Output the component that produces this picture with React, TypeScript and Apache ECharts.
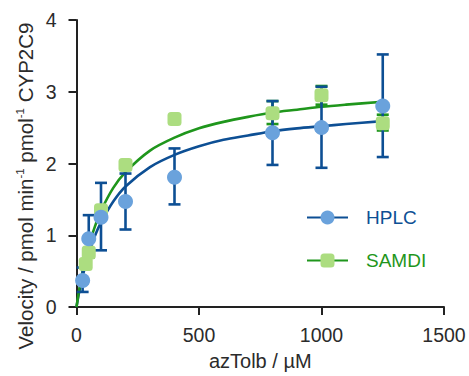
import React, { useEffect, useRef } from "react";
import * as echarts from "echarts";

// HPLC measurements
const hplcConc = [25, 50, 100, 200, 400, 800, 1000, 1250];
const hplcMean = [0.37, 0.95, 1.25, 1.47, 1.81, 2.43, 2.5, 2.8];
const hplcLow = [0.21, 0.69, 0.79, 1.08, 1.43, 1.98, 1.94, 2.09];
const hplcHigh = [0.55, 1.28, 1.73, 1.86, 2.21, 2.87, 3.07, 3.52];

// SAMDI measurements
const samdiConc = [37.5, 50, 100, 200, 400, 800, 1000, 1250];
const samdiMean = [0.6, 0.76, 1.35, 1.98, 2.62, 2.7, 2.95, 2.56];
const samdiLow = [0.56, 0.72, 1.31, 1.94, 2.58, 2.55, 2.82, 2.46];
const samdiHigh = [0.64, 0.8, 1.39, 2.02, 2.66, 2.87, 3.08, 2.68];

// fitted curves
const curveX = [0, 10, 25, 50, 75, 100, 150, 200, 300, 400, 500, 600, 700, 800, 900, 1000, 1100, 1250];
const hplcFit = [0, 0.19, 0.43, 0.74, 0.99, 1.18, 1.47, 1.68, 1.95, 2.12, 2.24, 2.33, 2.39, 2.45, 2.49, 2.52, 2.55, 2.59];
const samdiFit = [0, 0.22, 0.49, 0.85, 1.12, 1.34, 1.66, 1.88, 2.18, 2.36, 2.49, 2.58, 2.65, 2.71, 2.75, 2.79, 2.82, 2.86];

const xTicks = [0, 500, 1000, 1500];
const yTicks = [0, 1, 2, 3, 4];

const FONT = "'Liberation Sans', Arial, Helvetica, sans-serif";
const BLUE_DARK = "#0d4f94";
const BLUE_LIGHT = "#6aa2dc";
const GREEN_DARK = "#1f961c";
const GREEN_LIGHT = "#acdd80";
const AXIS = "#222222";
const LABEL = "#2b2b2b";

function errorSeries(conc: number[], low: number[], high: number[], color: string, z: number) {
  return {
    type: "custom",
    z,
    silent: true,
    data: conc.map((c, i) => [c, low[i], high[i]]),
    encode: { x: 0, y: [1, 2] },
    renderItem: (_params: any, api: any) => {
      const x = api.value(0);
      const top = api.coord([x, api.value(2)]);
      const bot = api.coord([x, api.value(1)]);
      const w = 6;
      const style = { stroke: color, lineWidth: 2.6 };
      return {
        type: "group",
        children: [
          { type: "line", shape: { x1: top[0], y1: top[1], x2: bot[0], y2: bot[1] }, style },
          { type: "line", shape: { x1: top[0] - w, y1: top[1], x2: top[0] + w, y2: top[1] }, style },
          { type: "line", shape: { x1: bot[0] - w, y1: bot[1], x2: bot[0] + w, y2: bot[1] }, style },
        ],
      };
    },
  };
}

export default function App() {
  const ref = useRef<HTMLDivElement>(null);
  useEffect(() => {
    if (!ref.current) return;
    const chart = echarts.init(ref.current, null, { renderer: "svg" });
    chart.setOption({
      animation: false,
      backgroundColor: "#ffffff",
      grid: { left: 76.5, right: 25, top: 20, bottom: 64, containLabel: false },
      legend: {
        orient: "vertical",
        left: 301,
        top: 203,
        itemWidth: 41,
        itemHeight: 17.5,
        itemGap: 24,
        selectedMode: false,
        data: [
          { name: "HPLC", textStyle: { color: BLUE_DARK } },
          { name: "SAMDI", textStyle: { color: GREEN_DARK } },
        ],
        textStyle: { fontSize: 19, fontFamily: FONT, padding: [0, 0, 0, 13] },
      },
      xAxis: {
        type: "value",
        min: xTicks[0],
        max: xTicks[xTicks.length - 1],
        interval: 500,
        name: "azTolb / µM",
        nameLocation: "middle",
        nameGap: 44,
        nameTextStyle: { fontSize: 20, color: LABEL, fontFamily: FONT },
        axisLine: { show: true, onZero: false, lineStyle: { color: AXIS, width: 2 } },
        axisTick: { show: true, length: 8, lineStyle: { color: AXIS, width: 2 } },
        axisLabel: {
          fontSize: 19.5,
          color: LABEL,
          fontFamily: FONT,
          margin: 18,
          formatter: (v: number) => String(v),
        },
        splitLine: { show: false },
      },
      yAxis: {
        type: "value",
        min: yTicks[0],
        max: yTicks[yTicks.length - 1],
        interval: 1,
        axisLine: { show: true, onZero: false, lineStyle: { color: AXIS, width: 2 } },
        axisTick: { show: true, length: 8, lineStyle: { color: AXIS, width: 2 } },
        axisLabel: {
          fontSize: 19.5,
          color: LABEL,
          fontFamily: FONT,
          margin: 20,
          formatter: (v: number) => String(v),
        },
        splitLine: { show: false },
      },
      graphic: [
        {
          type: "text",
          x: 25,
          y: 186,
          rotation: Math.PI / 2,
          style: {
            text: "Velocity / pmol min{s|-1} pmol{s|-1} CYP2C9",
            fontSize: 20.5,
            fontFamily: FONT,
            fill: LABEL,
            align: "center",
            verticalAlign: "middle",
            lineHeight: 22,
            rich: {
              s: { fontSize: 11.5, fontFamily: FONT, fill: LABEL, verticalAlign: "top", lineHeight: 22 },
            },
          },
        },
      ],
      series: [
        {
          name: "HPLC",
          type: "line",
          z: 2,
          data: curveX.map((x, i) => [x, hplcFit[i]]),
          smooth: 0.3,
          showSymbol: false,
          symbol: "circle",
          itemStyle: { color: BLUE_LIGHT },
          lineStyle: { color: BLUE_DARK, width: 2.6 },
        },
        {
          name: "SAMDI",
          type: "line",
          z: 2,
          data: curveX.map((x, i) => [x, samdiFit[i]]),
          smooth: 0.3,
          showSymbol: false,
          symbol: "roundRect",
          itemStyle: { color: GREEN_LIGHT },
          lineStyle: { color: GREEN_DARK, width: 2.6 },
        },
        errorSeries(samdiConc, samdiLow, samdiHigh, GREEN_DARK, 3),
        errorSeries(hplcConc, hplcLow, hplcHigh, BLUE_DARK, 3),
        {
          name: "SAMDI",
          type: "scatter",
          z: 4,
          symbol: "roundRect",
          symbolSize: 14,
          itemStyle: { color: GREEN_LIGHT, opacity: 1 },
          data: samdiConc.map((x, i) => [x, samdiMean[i]]),
        },
        {
          name: "HPLC",
          type: "scatter",
          z: 5,
          symbol: "circle",
          symbolSize: 15,
          itemStyle: { color: BLUE_LIGHT, opacity: 1 },
          data: hplcConc.map((x, i) => [x, hplcMean[i]]),
        },
      ],
    });
    return () => chart.dispose();
  }, []);
  return (
    <div
      ref={ref}
      style={{ position: "fixed", left: 0, top: 0, width: 469, height: 376, background: "#fff" }}
    />
  );
}
